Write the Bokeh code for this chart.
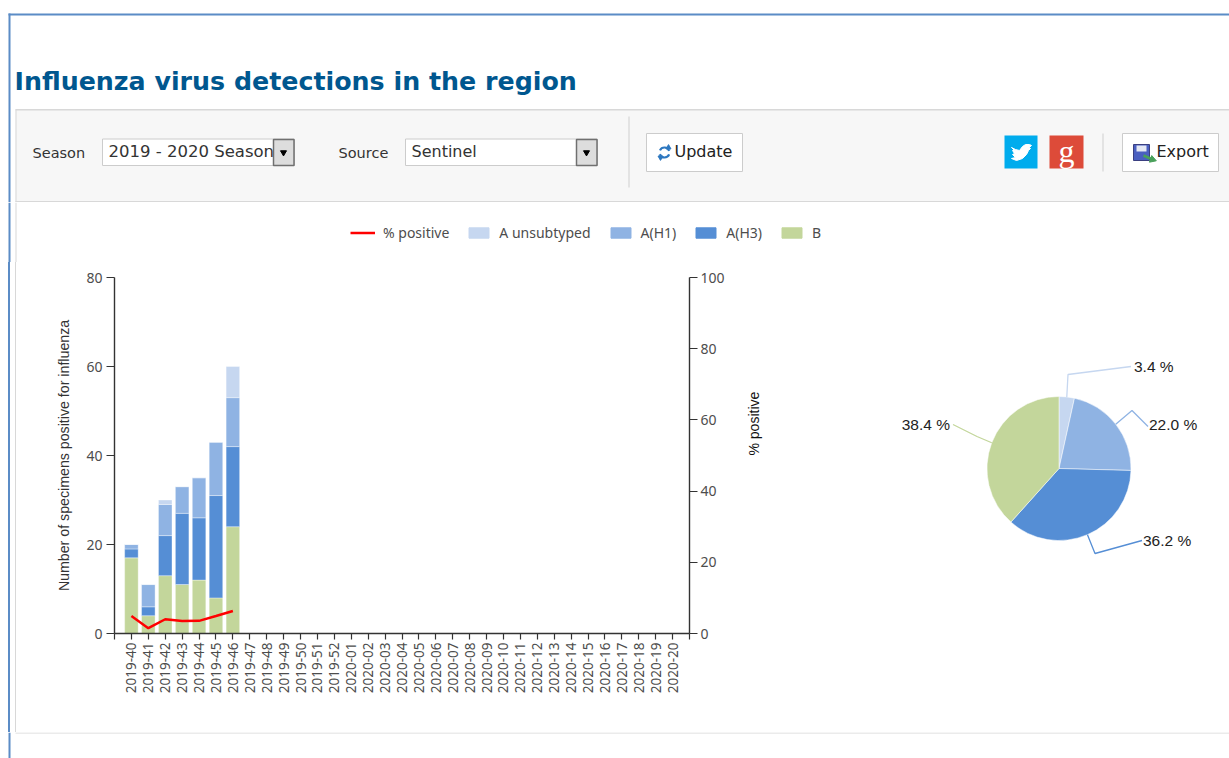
from bokeh.plotting import figure
from bokeh.models import (Range1d, LinearAxis, FixedTicker, Legend, LegendItem, Div)
from bokeh.layouts import column, row
from bokeh.core.properties import value
from bokeh.embed import file_html
from bokeh.resources import INLINE
import math

# ---- data ----
weeks = ["2019-%d" % w for w in range(40, 53)] + ["2020-%02d" % w for w in range(1, 21)]
b_vals = [17, 4, 13, 11, 12, 8, 24]
h3_vals = [2, 2, 9, 16, 14, 23, 18]
h1_vals = [1, 5, 7, 6, 9, 12, 11]
unsub_vals = [0, 0, 1, 0, 0, 0, 7]
pct_positive = [4.9, 1.5, 4.0, 3.5, 3.55, 4.9, 6.3]
series_names = ["A unsubtyped", "A(H1)", "A(H3)", "B"]
series_colors = ["#C6D7F0", "#8FB3E3", "#558ED5", "#C3D69B"]
left_ticks = [0, 20, 40, 60, 80]
right_ticks = [0, 20, 40, 60, 80, 100]

TXT = "#4D4D4D"
BLUE = "#5B8CC6"
GREY = "#D8D8D8"
W_ALL = 1229
TOP_H = 202
LEG_H = 60
MID_H = 470
BOT_H = 26
STRIP_W = 16
MAIN_W = 814
RED = "#FF0000"

# ---- header strip (page pixel coordinates) ----
top = figure(width=W_ALL, height=TOP_H, x_range=Range1d(0, 1229), y_range=Range1d(202, 0),
             output_backend="svg", toolbar_location=None, min_border=0, outline_line_color=None)
top.axis.visible = False
top.grid.visible = False


def box(l, r, t, b, fill, line=None, lw=1):
    top.quad(left=[l], right=[r], top=[t], bottom=[b], fill_color=fill, line_color=line, line_width=lw)


def txt(x, y, s, size, color="#333333", font="DejaVu Sans", style="normal", align="left"):
    top.text(x=[x], y=[y], text=[s], text_font=value(font), text_font_size=size, text_color=color,
             text_baseline="middle", text_align=align, text_font_style=style)


box(8, 1229, 13, 15, BLUE)
box(8, 10, 13, 202, BLUE)
box(15, 1229, 109, 202, "#F7F7F7")
box(15, 1229, 108.5, 110, GREY)
box(15, 1229, 200.5, 202, GREY)
box(15, 16, 109, 202, GREY)
txt(14, 81, "Influenza virus detections in the region", "25.3px", "#00578F", "DejaVu Sans", "bold")

# selects
txt(32, 152, "Season", "14.5px", "#333333")
box(102, 294, 138.5, 165, "white", "#CCCCCC")
txt(108, 151, "2019 - 2020 Season", "16.5px", "#333333")
box(273, 293.5, 139, 165, "#DDDDDD", "#707070", 1.5)
top.scatter(x=[283], y=[152], marker="inverted_triangle", size=6, color="black")
txt(338, 152, "Source", "14.5px", "#333333")
box(405, 597, 138.5, 165, "white", "#CCCCCC")
txt(411, 151, "Sentinel", "16px", "#333333")
box(576, 596.5, 139, 165, "#DDDDDD", "#707070", 1.5)
top.scatter(x=[586], y=[152], marker="inverted_triangle", size=6, color="black")

# separators
box(628, 629, 116, 187, "#D0D0D0")
box(1102, 1103, 133, 171, "#D0D0D0")

# buttons
box(646, 742, 133, 171, "white", "#CCCCCC")
txt(674, 151, "Update", "16px", "#222222")
top.arc(x=[664], y=[152], radius=5, start_angle=[0.35], end_angle=[2.7], line_color="#2E78C0", line_width=2.2)
top.arc(x=[664], y=[152], radius=5, start_angle=[3.5], end_angle=[5.9], line_color="#2E78C0", line_width=2.2)
top.scatter(x=[668], y=[147], marker="triangle", size=5, color="#2E78C0")
top.scatter(x=[660], y=[157], marker="inverted_triangle", size=5, color="#2E78C0")

box(1122, 1218, 133, 171, "white", "#CCCCCC")
txt(1156, 151, "Export", "16px", "#222222")
box(1133, 1149, 144, 160, "#4A5FC0", "#3A3F80")
box(1136, 1146, 145, 151, "#E4E8F4")
top.line(x=[1143, 1152], y=[155, 159], line_color="#49A05A", line_width=3)
top.scatter(x=[1152], y=[159], marker="triangle", size=7, color="#49A05A", angle=[-1.9])

# social icons
box(1004, 1037, 135, 168, "#00ACED")
top.patch(x=[1011, 1015, 1019, 1022, 1025, 1029, 1031, 1029, 1030, 1028, 1026, 1022, 1016, 1011, 1015, 1012, 1014, 1012, 1014],
          y=[147, 149, 150, 146, 144, 144, 145, 147, 148, 150, 154, 158, 160, 158, 157, 154, 153, 150, 150],
          fill_color="white", line_color="white")
box(1049, 1083, 135, 168, "#DD4B39")
txt(1066, 150, "g", "32px", "white", "Liberation Serif", "normal", "center")

# ---- legend band: key glyphs sit off the visible range, only their legend swatches show ----
band = figure(width=W_ALL, height=LEG_H, x_range=Range1d(0, 1229), y_range=Range1d(0, LEG_H),
              output_backend="svg", toolbar_location=None, min_border=0, outline_line_color=None)
band.axis.visible = False
band.grid.visible = False
band.quad(left=[8], right=[10], top=[LEG_H], bottom=[0], fill_color=BLUE, line_color=None)
band.quad(left=[15], right=[16], top=[LEG_H], bottom=[0], fill_color=GREY, line_color=None)
key_line = band.line(x=[-60, -50], y=[-60, -50], line_color=RED, line_width=2.5)
key_bars = {n: band.quad(left=[-60], right=[-50], top=[-50], bottom=[-60], fill_color=c, line_color=c)
            for n, c in zip(series_names, series_colors)}
legend = Legend(items=[LegendItem(label="% positive", renderers=[key_line])] +
                      [LegendItem(label=n, renderers=[key_bars[n]]) for n in series_names],
                orientation="horizontal", location=(350, 20), spacing=17, padding=0, margin=0,
                glyph_width=25, glyph_height=13, label_standoff=8, border_line_color=None,
                background_fill_alpha=0, label_text_font="Noto Sans", label_text_font_size="14px",
                label_text_color=TXT)
band.add_layout(legend, "center")

# ---- left margin rules ----
strip = Div(text="", width=STRIP_W, height=MID_H, margin=0,
            styles={"background": "linear-gradient(to right, white 8px, %s 8px, %s 10px, white 10px, "
                                  "white 15px, %s 15px, %s 16px)" % (BLUE, BLUE, GREY, GREY)})

# ---- stacked bars and line ----
main = figure(width=MAIN_W, height=MID_H, x_range=Range1d(0, len(weeks) + 1), y_range=Range1d(0, 80),
              output_backend="svg", toolbar_location=None, outline_line_color=None,
              min_border_left=98, min_border_right=141, min_border_top=15,
              min_border_bottom=99, x_axis_type=None, y_axis_type=None)
main.grid.visible = False
main.extra_y_ranges["pct"] = Range1d(0, 100)

xs = list(range(1, len(b_vals) + 1))
stack = [("B", b_vals), ("A(H3)", h3_vals), ("A(H1)", h1_vals), ("A unsubtyped", unsub_vals)]
base = [0] * len(xs)
for name, vals in stack:
    upper = [a + c for a, c in zip(base, vals)]
    col = series_colors[series_names.index(name)]
    main.vbar(x=xs, bottom=base, top=upper, width=0.8, fill_color=col,
              line_color="white", line_width=0.6, line_alpha=0.6)
    base = upper
main.line(xs, pct_positive, y_range_name="pct", line_color=RED, line_width=2.5)


def style_axis(ax):
    ax.axis_line_color = "#333333"
    ax.axis_line_width = 1.4
    ax.major_tick_line_color = "#333333"
    ax.major_tick_line_width = 1.2
    ax.minor_tick_line_color = None
    ax.major_tick_in = 0
    ax.major_tick_out = 8
    ax.major_label_text_font = "Noto Sans"
    ax.major_label_text_font_size = "14px"
    ax.major_label_text_color = TXT


x_ax = LinearAxis(ticker=FixedTicker(ticks=list(range(0, len(weeks) + 2))))
x_ax.major_label_overrides = {i + 1: w for i, w in enumerate(weeks)}
x_ax.major_label_overrides.update({0: "", len(weeks) + 1: ""})
x_ax.major_label_orientation = math.pi / 2
style_axis(x_ax)
x_ax.major_label_text_font_size = "13.5px"
x_ax.major_tick_out = 6
x_ax.major_label_standoff = 3
main.add_layout(x_ax, "below")

y_ax = LinearAxis(ticker=FixedTicker(ticks=left_ticks),
                  axis_label="Number of specimens positive for influenza")
style_axis(y_ax)
y_ax.major_label_standoff = 4
y_ax.axis_label_text_font = "Liberation Sans"
y_ax.axis_label_text_font_size = "14.2px"
y_ax.axis_label_text_font_style = "normal"
y_ax.axis_label_text_color = "#333333"
y_ax.axis_label_standoff = 11
main.add_layout(y_ax, "left")

r_ax = LinearAxis(y_range_name="pct", ticker=FixedTicker(ticks=right_ticks), axis_label="% positive")
style_axis(r_ax)
r_ax.major_label_standoff = 3
r_ax.axis_label_text_font = "Liberation Sans"
r_ax.axis_label_text_font_size = "14px"
r_ax.axis_label_text_font_style = "normal"
r_ax.axis_label_text_color = "#111111"
r_ax.axis_label_standoff = 26
r_ax.axis_label_orientation = math.pi / 2
main.add_layout(r_ax, "right")

# ---- pie ----
pie = figure(width=W_ALL - STRIP_W - MAIN_W, height=MID_H, x_range=Range1d(830, 1229),
             y_range=Range1d(-633, -277),
             output_backend="svg", toolbar_location=None, min_border_left=0, min_border_right=0,
             min_border_top=15, min_border_bottom=99, outline_line_color=None)
pie.axis.visible = False
pie.grid.visible = False
CX, CY, R = 1058.5, -468, 72
totals = [sum(unsub_vals), sum(h1_vals), sum(h3_vals), sum(b_vals)]
grand = sum(totals)
# leader elbow / end offsets and label anchors are styling, per slice
elbow = [(9, 94), (73, 58), (36, -85), (-82, 32)]
end = [(72, 102), (89, 42), (83, -72), (-106, 44)]
lab = [(75, 102), (90, 44), (84, -72), (-109, 44)]
aligns = ["left", "left", "left", "right"]
cum = 0
for v, c, el, en, la, al in zip(totals, series_colors, elbow, end, lab, aligns):
    a0 = math.pi / 2 - 2 * math.pi * cum / grand
    a1 = math.pi / 2 - 2 * math.pi * (cum + v) / grand
    pie.wedge(x=[CX], y=[CY], radius=R, radius_units="screen", start_angle=[a1], end_angle=[a0],
              fill_color=c, line_color="white", line_width=0.5)
    mid = (a0 + a1) / 2
    pie.line([CX + R * math.cos(mid), CX + el[0], CX + en[0]],
             [CY + R * math.sin(mid), CY + el[1], CY + en[1]], line_color=c, line_width=1.3)
    pie.text(x=[CX + la[0]], y=[CY + la[1]], text=["%.1f %%" % (100 * v / grand)],
             text_font=value("Liberation Sans"), text_font_size="15.5px", text_color="#222222",
             text_baseline="middle", text_align=al)
    cum += v

# ---- bottom rule ----
bottom = figure(width=W_ALL, height=BOT_H, x_range=Range1d(0, 1229), y_range=Range1d(758, 732),
                output_backend="svg", toolbar_location=None, min_border=0, outline_line_color=None)
bottom.axis.visible = False
bottom.grid.visible = False
bottom.quad(left=[8], right=[10], top=[732], bottom=[758], fill_color=BLUE, line_color=None)
bottom.quad(left=[15], right=[1229], top=[732], bottom=[733], fill_color=GREY, line_color=None)

page = column(top, band, row(strip, main, pie, spacing=0), bottom, spacing=0)
open("out.html", "w").write(file_html(page, INLINE))
